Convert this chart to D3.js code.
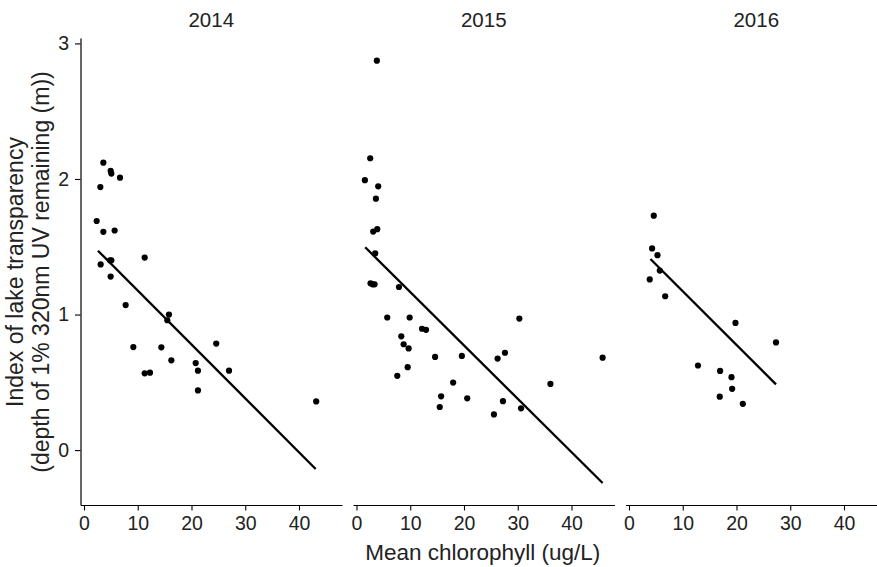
<!DOCTYPE html>
<html>
<head>
<meta charset="utf-8">
<script src="https://cdn.jsdelivr.net/npm/d3@7"></script>
<style>
  html, body { margin: 0; padding: 0; background: #ffffff; }
  svg { display: block; font-family: "Liberation Sans", Arial, sans-serif; }
</style>
</head>
<body>
<svg id="chart" width="877" height="567"></svg>
<script>
// ---- Data ----
const years = ["2014", "2015", "2016"];

const chl2014 = [2.36, 3.04, 3.6, 3.6, 3.1, 4.96, 5.09, 5.7, 4.84, 5.09, 4.96, 6.7, 7.75, 9.18, 11.29, 11.29, 12.28, 14.39, 15.81, 15.5, 16.25, 20.78, 21.2, 21.2, 24.6, 26.98, 43.2];
const trans2014 = [1.69, 1.94, 2.12, 1.61, 1.37, 2.06, 2.04, 1.62, 1.40, 1.40, 1.28, 2.01, 1.07, 0.76, 1.42, 0.566, 0.571, 0.758, 1.0, 0.958, 0.662, 0.642, 0.586, 0.44, 0.786, 0.586, 0.359];

const chl2015 = [3.79, 2.55, 1.56, 4.04, 3.61, 3.11, 3.86, 3.48, 2.61, 2.99, 3.36, 7.9, 5.72, 9.89, 8.33, 8.77, 9.7, 9.52, 7.59, 12.19, 12.94, 14.62, 15.74, 15.49, 17.98, 19.6, 20.6, 25.57, 26.25, 27.62, 27.25, 30.3, 30.61, 36.08, 45.79];
const trans2015 = [2.873, 2.153, 1.991, 1.946, 1.855, 1.612, 1.63, 1.451, 1.231, 1.223, 1.223, 1.203, 0.978, 0.978, 0.839, 0.781, 0.75, 0.612, 0.548, 0.895, 0.887, 0.687, 0.397, 0.318, 0.498, 0.695, 0.382, 0.263, 0.675, 0.718, 0.361, 0.97, 0.308, 0.488, 0.682];

const chl2016 = [4.61, 4.3, 5.3, 5.73, 3.86, 6.73, 19.81, 27.35, 12.83, 16.95, 19.07, 19.19, 16.88, 21.18];
const trans2016 = [1.729, 1.488, 1.438, 1.324, 1.259, 1.135, 0.938, 0.794, 0.624, 0.584, 0.538, 0.452, 0.394, 0.341];

// fitted regression line end points per year
const fitStartX = [2.6, 1.62, 3.99];
const fitStartY = [1.471, 1.496, 1.41];
const fitEndX = [43.1, 45.79, 27.35];
const fitEndY = [-0.139, -0.243, 0.485];

const xTicks = [0, 10, 20, 30, 40];
const yTicks = [0, 1, 2, 3];

const xTitle = "Mean chlorophyll (ug/L)";
const yTitle1 = "Index of lake transparency";
const yTitle2 = "(depth of 1% 320nm UV remaining (m))";

// ---- Layout ----
const svg = d3.select("#chart");
const plotTop = 38, plotBottom = 505;
const panelW = 261.5, panelStep = 272.5, firstLeft = 80.5;
const textCol = "#222222";
const tickFont = "19.5px";

const x = d3.scaleLinear().domain([-0.65, 48.0]).range([0, panelW]);
const y = d3.scaleLinear().domain([-0.405, 3.04]).range([plotBottom, plotTop]);

const panelsX = [chl2014, chl2015, chl2016];
const panelsY = [trans2014, trans2015, trans2016];

years.forEach((yr, i) => {
  const left = firstLeft + i * panelStep;
  const g = svg.append("g").attr("transform", `translate(${left},0)`);

  // strip title
  g.append("text")
    .attr("x", panelW / 2).attr("y", 26.7)
    .attr("text-anchor", "middle")
    .attr("font-size", "20.5px")
    .attr("fill", textCol)
    .text(yr);

  // x axis
  const xa = g.append("g")
    .attr("transform", `translate(0,${plotBottom})`)
    .call(d3.axisBottom(x).tickValues(xTicks).tickFormat(d3.format("d"))
      .tickSize(5.5).tickPadding(5.5).tickSizeOuter(0));
  xa.select(".domain").attr("stroke", "#000").attr("stroke-width", 1.2);
  xa.selectAll(".tick line").attr("stroke", "#000").attr("stroke-width", 1.1);
  xa.selectAll(".tick text")
    .attr("font-size", tickFont)
    .attr("font-family", "Liberation Sans, Arial, sans-serif")
    .attr("fill", textCol);

  // y axis only on first panel
  if (i === 0) {
    const ya = g.append("g")
      .call(d3.axisLeft(y).tickValues(yTicks).tickFormat(d3.format("d"))
        .tickSize(5.5).tickPadding(6).tickSizeOuter(0));
    ya.select(".domain").attr("stroke", "#000").attr("stroke-width", 1.2);
    ya.selectAll(".tick line").attr("stroke", "#000").attr("stroke-width", 1.1);
    ya.selectAll(".tick text")
      .attr("font-size", tickFont)
      .attr("font-family", "Liberation Sans, Arial, sans-serif")
      .attr("fill", textCol);
  }

  // points
  const xs = panelsX[i], ys = panelsY[i];
  g.selectAll("circle.pt")
    .data(xs.map((v, k) => [v, ys[k]]))
    .join("circle")
    .attr("class", "pt")
    .attr("cx", d => x(d[0]))
    .attr("cy", d => y(d[1]))
    .attr("r", 3.1)
    .attr("fill", "#000");

  // regression line
  g.append("line")
    .attr("x1", x(fitStartX[i])).attr("y1", y(fitStartY[i]))
    .attr("x2", x(fitEndX[i])).attr("y2", y(fitEndY[i]))
    .attr("stroke", "#000")
    .attr("stroke-width", 2.3);
});

// x axis title
svg.append("text")
  .attr("x", firstLeft + panelStep + panelW / 2 - 1)
  .attr("y", 560)
  .attr("text-anchor", "middle")
  .attr("font-size", "22.5px")
  .attr("fill", textCol)
  .text(xTitle);

// y axis title (two lines)
const yt = svg.append("text")
  .attr("transform", "translate(0,272) rotate(-90)")
  .attr("text-anchor", "middle")
  .attr("font-size", "23px")
  .attr("fill", textCol);
yt.append("tspan").attr("x", 0).attr("y", 23.2).text(yTitle1);
yt.append("tspan").attr("x", 0).attr("y", 48.5).text(yTitle2);
</script>
</body>
</html>
